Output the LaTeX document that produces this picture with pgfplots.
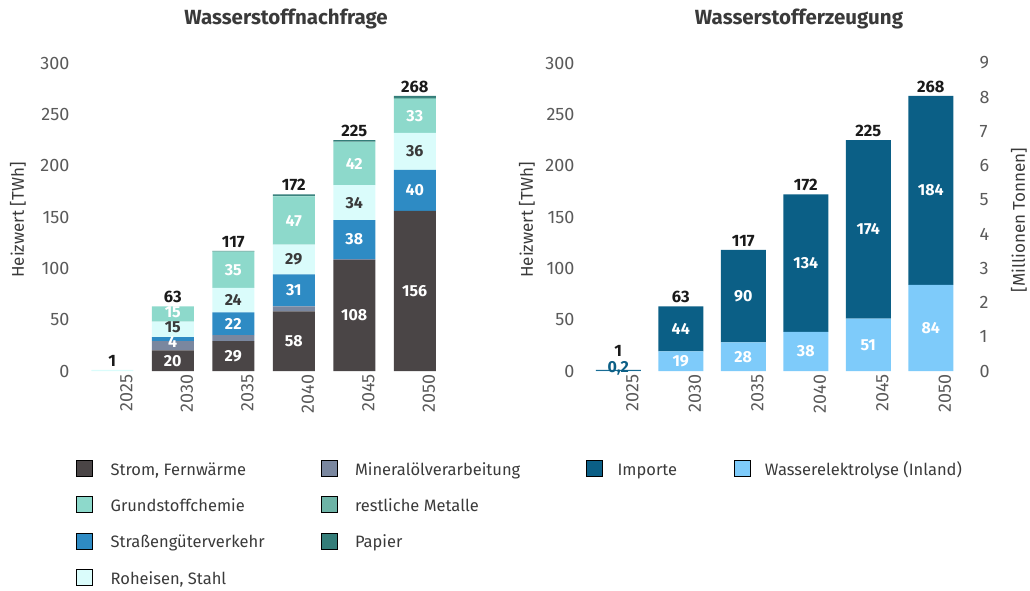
\documentclass[border=0pt]{standalone}
\usepackage{fontspec}
\setmainfont{Fira Sans}
\usepackage{pgfplots}
\pgfplotsset{compat=1.18}
\definecolor{cS}{HTML}{4A4546}
\definecolor{cM}{HTML}{7A879F}
\definecolor{cT}{HTML}{2E8BC4}
\definecolor{cR}{HTML}{DAFCFB}
\definecolor{cG}{HTML}{8DD9CB}
\definecolor{cX}{HTML}{6DB3A6}
\definecolor{cP}{HTML}{347D79}
\definecolor{cI}{HTML}{0B5F86}
\definecolor{cW}{HTML}{7ECBFA}
\definecolor{tickc}{HTML}{5A5A5A}
\definecolor{txt}{HTML}{3A3A3A}
\definecolor{tot}{HTML}{1A1A1A}

\pgfplotsset{
  panel/.style={scale only axis, anchor=south west, height=308pt,
    xmin=-0.5, xmax=5.5, ymin=0, ymax=300, clip=false},
  mainax/.style={panel,
    axis line style={draw=none}, major tick length=0pt, tick style={draw=none},
    xtick={0,...,5}, xticklabels={2025,2030,2035,2040,2045,2050},
    xticklabel style={rotate=90, anchor=east, xshift=0pt, yshift=-14pt,
      font=\fontsize{18}{20}\selectfont, text=tickc},
    ytick={0,50,...,300},
    yticklabel style={font=\fontsize{18}{20}\selectfont, text=tickc, xshift=-9pt},
    /pgf/number format/assume math mode=true,
    ybar stacked,
    legend image code/.code={\fill[##1] (0pt,-5pt) rectangle (16pt,11pt);},
    legend columns=2,
    legend cell align=left,
  },
  seglab/.style={only marks, mark=none, nodes near coords, point meta=explicit symbolic,
    every node near coord/.style={anchor=center, font=\bfseries\fontsize{16}{18}\selectfont, text=#1}},
  totlab/.style={only marks, mark=none, nodes near coords, point meta=explicit symbolic,
    every node near coord/.style={anchor=south, font=\bfseries\fontsize{16.5}{18}\selectfont, text=tot}},
  legsty/.style={anchor=north west,
    draw=none, fill=none, font=\fontsize{16.5}{19}\selectfont, text=txt,
    inner sep=0pt, row sep=17pt,
    nodes={inner sep=0pt, text height=12pt, text depth=4pt}},
}

\pgfplotstableread{
x  S    M    T    R    G    X    P
0  0    0    0    1    0    0    0
1  20   9    4    15   15   0    0
2  29   6    22   24   35   0.5  0.5
3  58   5    31   29   47   0.5  1.5
4  108  1    38   34   42   0.5  1.5
5  156  0    40   36   33   1    2
}\demand

\pgfplotstableread{
x  W    I
0  0.2  0.8
1  19   44
2  28   90
3  38   134
4  51   174
5  84   184
}\supply

\begin{document}
\begin{tikzpicture}[x=1pt,y=1pt]
\path[use as bounding box] (0,0) rectangle (1030,590);

\node[font=\bfseries\fontsize{20.5}{22}\selectfont, text=txt] at (286,571) {Wasserstoffnachfrage};
\node[font=\bfseries\fontsize{20.5}{22}\selectfont, text=txt] at (799,571) {Wasserstofferzeugung};
\node[rotate=90, font=\fontsize{17}{18}\selectfont, text=txt] at (18,370) {Heizwert [TWh]};
\node[rotate=90, font=\fontsize{17}{18}\selectfont, text=txt] at (527,370) {Heizwert [TWh]};
\node[rotate=90, font=\fontsize{17}{18}\selectfont, text=txt] at (1019,370) {[Millionen Tonnen]};

% ---------------- left panel ----------------
\begin{axis}[mainax, at={(82pt,219pt)}, width=363pt, bar width=42pt,
  legend style={legsty, at={(axis description cs:-0.0165,-0.2890)},
    /tikz/every odd column/.append style={column sep=18pt},
    /tikz/every even column/.append style={column sep=10pt}},
]
\addplot[fill=cS, draw=none, forget plot] table[x=x, y=S] {\demand};
\addplot[fill=cM, draw=none, forget plot] table[x=x, y=M] {\demand};
\addplot[fill=cT, draw=none, forget plot] table[x=x, y=T] {\demand};
\addplot[fill=cR, draw=none, forget plot] table[x=x, y=R] {\demand};
\addplot[fill=cG, draw=none, forget plot] table[x=x, y=G] {\demand};
\addplot[fill=cX, draw=none, forget plot] table[x=x, y=X] {\demand};
\addplot[fill=cP, draw=none, forget plot] table[x=x, y=P] {\demand};
\addlegendimage{fill=cS}\addlegendentry{\makebox[200pt][l]{Strom, Fernwärme}}
\addlegendimage{fill=cM}\addlegendentry{Mineralölverarbeitung}
\addlegendimage{fill=cG}\addlegendentry{\makebox[200pt][l]{Grundstoffchemie}}
\addlegendimage{fill=cX}\addlegendentry{restliche Metalle}
\addlegendimage{fill=cT}\addlegendentry{\makebox[200pt][l]{Straßengüterverkehr}}
\addlegendimage{fill=cP}\addlegendentry{Papier}
\addlegendimage{fill=cR}\addlegendentry{\makebox[200pt][l]{Roheisen, Stahl}}
\end{axis}

\begin{axis}[panel, at={(82pt,219pt)}, width=363pt, hide axis]
\addplot[seglab=white] coordinates {(1,10)[20] (2,14.5)[29] (3,29)[58] (4,54)[108] (5,78)[156]};
\addplot[seglab=white] coordinates {(1,28.5)[4] (2,46)[22] (3,78.5)[31] (4,128)[38] (5,176)[40]};
\addplot[seglab=txt] coordinates {(1,43)[15] (2,69)[24] (3,108.5)[29] (4,164)[34] (5,214)[36]};
\addplot[seglab=white] coordinates {(1,57.5)[15] (2,98.5)[35] (3,146.5)[47] (4,202)[42] (5,248.5)[33]};
\addplot[totlab] coordinates {(0,1)[1] (1,63)[63] (2,117)[117] (3,172)[172] (4,225)[225] (5,268)[268]};
\end{axis}

% ---------------- right panel ----------------
\begin{axis}[mainax, at={(587pt,219pt)}, width=375pt, bar width=45pt,
  legend style={legsty, at={(axis description cs:-0.0027,-0.2890)},
    /tikz/every odd column/.append style={column sep=15pt},
    /tikz/every even column/.append style={column sep=10pt}},
]
\addplot[fill=cW, draw=none, forget plot] table[x=x, y=W] {\supply};
\addplot[fill=cI, draw=none, forget plot] table[x=x, y=I] {\supply};
\addlegendimage{fill=cI}\addlegendentry{\makebox[106pt][l]{Importe}}
\addlegendimage{fill=cW}\addlegendentry{Wasserelektrolyse (Inland)}
\end{axis}

\begin{axis}[panel, at={(587pt,219pt)}, width=375pt, ymax=9,
  axis x line=none, axis y line*=right, axis line style={draw=none},
  major tick length=0pt, tick style={draw=none},
  ytick={0,1,...,9},
  yticklabel style={font=\fontsize{18}{20}\selectfont, text=tickc, xshift=14pt},
  /pgf/number format/assume math mode=true]
\addplot[draw=none, mark=none] coordinates {(0,0)};
\end{axis}

\begin{axis}[panel, at={(587pt,219pt)}, width=375pt, hide axis]
\addplot[seglab=white] coordinates {(1,9.5)[19] (2,14)[28] (3,19)[38] (4,25.5)[51] (5,42)[84]};
\addplot[seglab=white] coordinates {(1,41)[44] (2,73)[90] (3,105)[134] (4,138)[174] (5,176)[184]};
\addplot[seglab=cI] coordinates {(0,2.5)[{0,2}]};
\addplot[totlab] coordinates {(0,11)[1] (1,63)[63] (2,118)[117] (3,172)[172] (4,225)[225] (5,268)[268]};
\end{axis}
\end{tikzpicture}
\end{document}
